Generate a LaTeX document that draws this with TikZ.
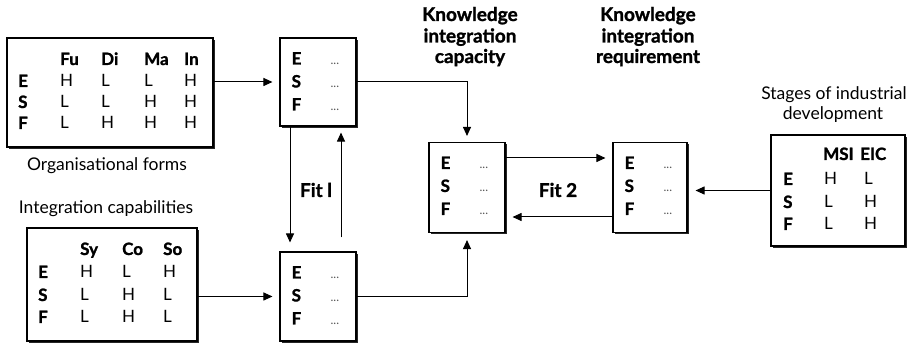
\documentclass[tikz,border=0pt]{standalone}
\usepackage{fontspec}
\setmainfont{Lato}[BoldFeatures={FakeBold=1.3}]
\usetikzlibrary{shadows,arrows.meta}
\tikzset{
  box/.style={draw, line width=1.1pt, fill=white, inner sep=0pt,
    drop shadow={shadow xshift=1.8pt, shadow yshift=-1.8pt, opacity=1, fill=black!85}},
  cell/.style={font=\fontsize{17}{19}\selectfont, inner sep=0pt, anchor=base west},
  hcell/.style={font=\fontsize{17}{19}\selectfont\bfseries, inner sep=0pt, anchor=base west},
  dotcell/.style={font=\fontsize{12}{12}\selectfont, text=black!65, inner sep=0pt, anchor=base west},
  arr/.style={line width=1pt, -{Triangle[length=9pt,width=8pt]}},
  lbl/.style={font=\fontsize{17.5}{20}\selectfont, inner sep=0pt, anchor=base},
  blbl/.style={font=\fontsize{19}{21.5}\selectfont\bfseries, inner sep=0pt, anchor=base},
  fitlbl/.style={font=\fontsize{19}{22}\selectfont\bfseries, inner sep=0pt},
}
\begin{document}
\begin{tikzpicture}[x=1pt,y=-1pt]
\useasboundingbox[fill=white] (0,0) rectangle (910,344);

% ---------- boxes ----------
\node[box, minimum width=206pt, minimum height=109pt] (of) at (110,92.5) {};
\node[box, minimum width=170pt, minimum height=113pt] (ic) at (112,284.5) {};
\node[box, minimum width=76pt, minimum height=88pt] (b2) at (318,82) {};
\node[box, minimum width=76pt, minimum height=89pt] (b6) at (318,296.5) {};
\node[box, minimum width=76pt, minimum height=90pt] (b3) at (467,187.5) {};
\node[box, minimum width=74pt, minimum height=90pt] (b4) at (650,187.5) {};
\node[box, minimum width=134pt, minimum height=111pt] (b5) at (838,190.5) {};

% ---------- organisational forms table ----------
\foreach \h/\xx [count=\i] in {Fu/60,Di/101,Ma/144,In/184}
  \node[hcell] (of-h\i) at (\xx,65) {\h};
\foreach \r/\yy/\va/\vb/\vc/\vd in {E/87/H/L/L/H, S/108/L/L/H/H, F/129/L/H/H/H}{
  \node[hcell] (of-\r) at (18,\yy) {\r};
  \node[cell] (of-\r1) at (60,\yy) {\va};
  \node[cell] (of-\r2) at (101,\yy) {\vb};
  \node[cell] (of-\r3) at (144,\yy) {\vc};
  \node[cell] (of-\r4) at (184,\yy) {\vd};
}

% ---------- integration capabilities table ----------
\foreach \h/\xx [count=\i] in {Sy/80,Co/122,So/163}
  \node[hcell] (ic-h\i) at (\xx,255) {\h};
\foreach \r/\yy/\va/\vb/\vc in {E/278/H/L/H, S/301/L/H/L, F/323/L/H/L}{
  \node[hcell] (ic-\r) at (38,\yy) {\r};
  \node[cell] (ic-\r1) at (80,\yy) {\va};
  \node[cell] (ic-\r2) at (122,\yy) {\vb};
  \node[cell] (ic-\r3) at (163,\yy) {\vc};
}

% ---------- stages table ----------
\node[hcell] (b5-h1) at (823,160) {MSI};
\node[hcell] (b5-h2) at (860,160) {EIC};
\foreach \r/\yy/\va/\vb in {E/185/H/L, S/208/L/H, F/230/L/H}{
  \node[hcell] (b5-\r) at (783,\yy) {\r};
  \node[cell] (b5-\r1) at (824,\yy) {\va};
  \node[cell] (b5-\r2) at (864,\yy) {\vb};
}

% ---------- small E/S/F boxes ----------
\foreach \b in {b2,b3,b4,b6}{
  \foreach \r/\dy in {E/27,S/50,F/73}{
    \node[hcell] (\b-\r) at ([xshift=12pt,yshift=-\dy pt]\b.north west) {\r};
    \node[dotcell] (\b-\r d) at ([xshift=51pt,yshift=-\dy pt]\b.north west) {...};
  }
}

% ---------- labels ----------
\node[lbl] (oflab) at (107,171) {Organisational forms};
\node[lbl] (iclab) at (106,214) {Integration capabilities};
\node[lbl] (sid1) at (834,100) {Stages of industrial};
\node[lbl] (sid2) at (833,120) {development};
\node[blbl] (kic1) at (470,21) {Knowledge};
\node[blbl] (kic2) at (470,42.5) {integration};
\node[blbl] (kic3) at (470,63) {capacity};
\node[blbl] (kir1) at (648,21) {Knowledge};
\node[blbl] (kir2) at (648,42.5) {integration};
\node[blbl] (kir3) at (648,63) {requirement};
\node[fitlbl] (fit1) at (316,190) {Fit l};
\node[fitlbl] (fit2) at (558,190) {Fit 2};

% ---------- connectors ----------
\draw[arr, shorten >=7pt] (of.east |- b2.west) -- (b2.west);
\draw[arr, shorten >=7pt] (ic.east |- b6.west) -- (b6.west);
\draw[arr, shorten >=6pt] (b2.east) -| (b3.north);
\draw[arr, shorten >=7pt] (b6.east) -| (b3.south);
\draw[arr, shorten >=9pt] ([xshift=-28pt]b2.south) -- ([xshift=-28pt]b6.north);
\draw[arr, shorten <=14pt, shorten >=6pt] ([xshift=23pt]b6.north) -- ([xshift=23pt]b2.south);
\draw[arr, shorten >=7pt] ([yshift=29.5pt]b3.east) -- ([yshift=29.5pt]b4.west);
\draw[arr, shorten >=7pt] ([yshift=-29.5pt]b4.west) -- ([yshift=-29.5pt]b3.east);
\draw[arr, shorten >=8pt] (b5.west) -- (b4.east |- b5.west);
\end{tikzpicture}
\end{document}
